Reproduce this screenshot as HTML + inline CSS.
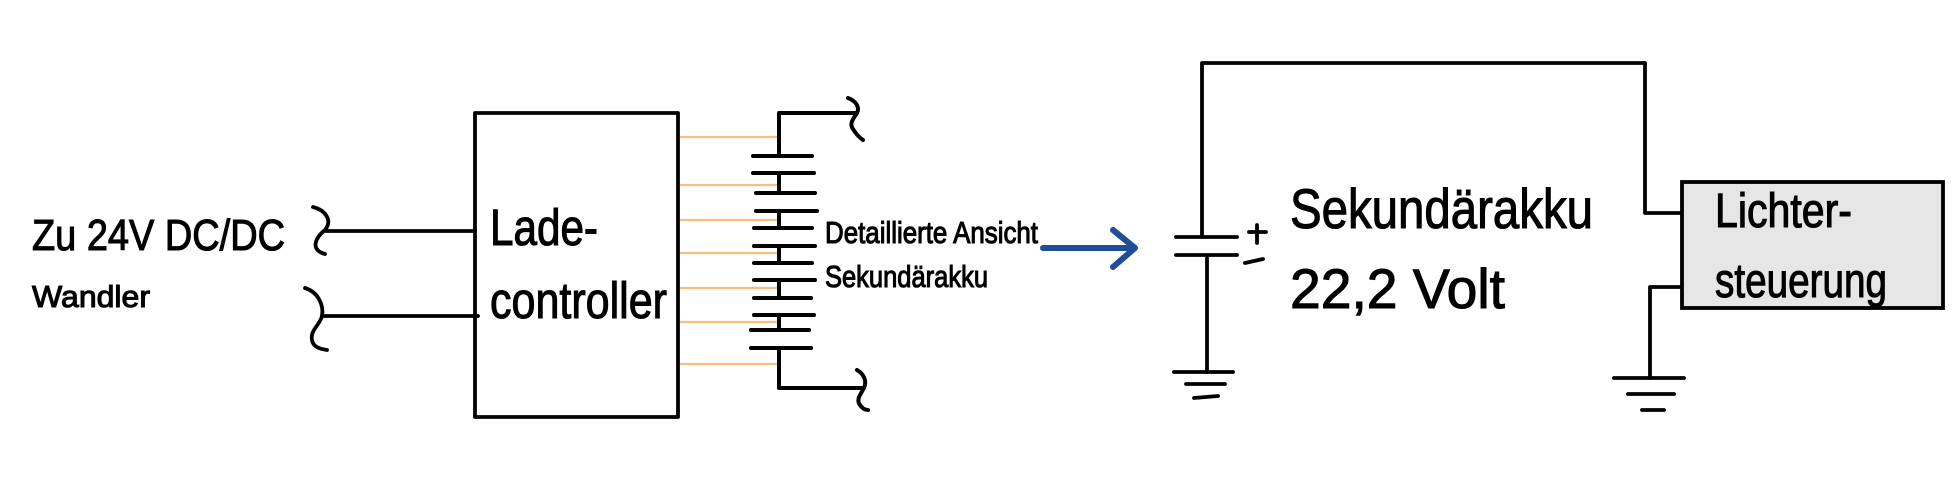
<!DOCTYPE html>
<html>
<head>
<meta charset="utf-8">
<style>
  html,body{margin:0;padding:0;background:#fff;}
  svg{display:block;}
  text{font-family:"Liberation Sans","DejaVu Sans",sans-serif;fill:#000;stroke:#000;stroke-width:1.1;}
</style>
</head>
<body>
<svg width="1960" height="480" viewBox="0 0 1960 480" xmlns="http://www.w3.org/2000/svg">
  <rect x="0" y="0" width="1960" height="480" fill="#fff"/>

  <!-- Left labels -->
  <text x="32" y="250" font-size="44" textLength="253" lengthAdjust="spacingAndGlyphs">Zu 24V DC/DC</text>
  <text x="32" y="307" font-size="31" textLength="118" lengthAdjust="spacingAndGlyphs">Wandler</text>

  <g fill="none" stroke="#000" stroke-width="3.8" stroke-linecap="round" stroke-linejoin="round">
    <!-- braces -->
    <path d="M313,207 C325,210 333,220 325,230 C315,238 310,250 325,254"/>
    <path d="M305,288 C318,292 324,305 322,316 C320,325 310,330 312,340 C313,347 320,349 327,350"/>
    <!-- input wires -->
    <line x1="326" y1="231" x2="475" y2="231"/>
    <line x1="322" y1="316" x2="478" y2="316"/>
    <!-- Lade-controller box -->
    <rect x="475" y="113" width="203" height="304"/>
  </g>

  <text x="490" y="245" font-size="51" textLength="108" lengthAdjust="spacingAndGlyphs">Lade-</text>
  <text x="490" y="318" font-size="51" textLength="177" lengthAdjust="spacingAndGlyphs">controller</text>

  <!-- orange balance wires -->
  <g stroke="#f3c07f" stroke-width="2.2">
    <line x1="680" y1="137" x2="778" y2="137"/>
    <line x1="680" y1="185" x2="778" y2="185"/>
    <line x1="680" y1="220" x2="778" y2="220"/>
    <line x1="680" y1="253" x2="778" y2="253"/>
    <line x1="680" y1="288" x2="778" y2="288"/>
    <line x1="680" y1="322" x2="778" y2="322"/>
    <line x1="680" y1="364" x2="778" y2="364"/>
  </g>

  <!-- battery stack -->
  <g fill="none" stroke="#000" stroke-width="4" stroke-linecap="round" stroke-linejoin="round">
    <polyline points="779,156 779,113 855,113"/>
    <path d="M848,98 C856,101 860,107 857,113 C853,119 849,124 853,129 C856,134 860,138 863,140"/>
    <line x1="753" y1="156" x2="812" y2="156"/>
    <line x1="753" y1="173" x2="814" y2="173"/>
    <line x1="779" y1="173" x2="779" y2="193"/>
    <line x1="756" y1="193" x2="815" y2="193"/>
    <line x1="756" y1="211" x2="817" y2="211"/>
    <line x1="779" y1="211" x2="779" y2="228"/>
    <line x1="754" y1="228" x2="812" y2="228"/>
    <line x1="754" y1="246" x2="815" y2="246"/>
    <line x1="779" y1="246" x2="779" y2="263"/>
    <line x1="754" y1="263" x2="812" y2="263"/>
    <line x1="754" y1="280" x2="815" y2="280"/>
    <line x1="779" y1="280" x2="779" y2="298"/>
    <line x1="754" y1="298" x2="811" y2="298"/>
    <line x1="754" y1="315" x2="814" y2="315"/>
    <line x1="779" y1="315" x2="779" y2="330"/>
    <line x1="751" y1="330" x2="809" y2="330"/>
    <line x1="751" y1="348" x2="811" y2="348"/>
    <polyline points="779,348 779,388 862,388"/>
    <path d="M857,370 C864,374 867,381 864,388 C860,395 856,400 860,405 C862,408 865,410 868,410"/>
  </g>

  <text x="825" y="243" font-size="31" textLength="213" lengthAdjust="spacingAndGlyphs">Detaillierte Ansicht</text>
  <text x="825" y="287" font-size="31" textLength="163" lengthAdjust="spacingAndGlyphs">Sekundärakku</text>

  <!-- blue arrow -->
  <g fill="none" stroke="#1f4e96" stroke-width="6" stroke-linecap="round" stroke-linejoin="round">
    <line x1="1043" y1="248" x2="1134" y2="248"/>
    <polyline points="1113,230 1135,248 1113,267"/>
  </g>

  <!-- right circuit -->
  <g fill="none" stroke="#000" stroke-width="3.8" stroke-linecap="round" stroke-linejoin="round">
    <polyline points="1202,236 1202,63 1645,63 1645,213 1682,213"/>
    <line x1="1176" y1="237" x2="1237" y2="237"/>
    <line x1="1176" y1="255" x2="1237" y2="255"/>
    <line x1="1207" y1="258" x2="1207" y2="372"/>
    <line x1="1174" y1="372" x2="1233" y2="372"/>
    <line x1="1186" y1="384" x2="1225" y2="384"/>
    <line x1="1194" y1="398" x2="1218" y2="396"/>
    <!-- + and - -->
    <line x1="1257" y1="225" x2="1257" y2="243"/>
    <line x1="1249" y1="232" x2="1266" y2="232"/>
    <line x1="1245" y1="263" x2="1263" y2="259"/>
    <!-- lower wire to ground -->
    <polyline points="1682,287 1650,287 1650,378"/>
    <line x1="1614" y1="378" x2="1684" y2="378"/>
    <line x1="1628" y1="394" x2="1674" y2="394"/>
    <line x1="1642" y1="410" x2="1664" y2="410"/>
  </g>

  <!-- Lichtersteuerung box -->
  <rect x="1682" y="182" width="261" height="126" fill="#e6e6e6" stroke="#000" stroke-width="3.8"/>

  <text x="1290" y="228" font-size="56" textLength="303" lengthAdjust="spacingAndGlyphs">Sekundärakku</text>
  <text x="1290" y="308" font-size="56" textLength="215" lengthAdjust="spacingAndGlyphs">22,2 Volt</text>

  <text x="1715" y="227" font-size="48" textLength="137" lengthAdjust="spacingAndGlyphs">Lichter-</text>
  <text x="1715" y="297" font-size="48" textLength="172" lengthAdjust="spacingAndGlyphs">steuerung</text>
</svg>
</body>
</html>
